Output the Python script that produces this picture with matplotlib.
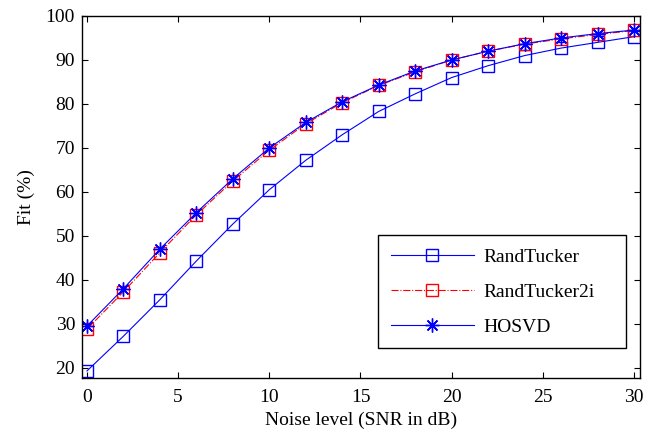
import matplotlib
matplotlib.use("Agg")
import matplotlib.pyplot as plt

snr = [0, 2, 4, 6, 8, 10, 12, 14, 16, 18, 20, 22, 24, 26, 28, 30]
randtucker = [19.3, 27.2, 35.5, 44.3, 52.7, 60.5, 67.2, 73.0, 78.3, 82.3, 86.0, 88.7, 91.0, 92.7, 94.0, 95.3]
randtucker2i = [28.8, 37.3, 46.2, 54.8, 62.5, 69.5, 75.5, 80.3, 84.2, 87.3, 90.0, 92.0, 93.6, 94.8, 95.8, 96.7]
hosvd = [29.5, 38.0, 47.0, 55.3, 63.0, 70.0, 75.8, 80.5, 84.3, 87.5, 90.0, 92.0, 93.7, 95.0, 96.0, 96.8]
labels = ["RandTucker", "RandTucker2i", "HOSVD"]
xticks = [0, 5, 10, 15, 20, 25, 30]
yticks = [20, 30, 40, 50, 60, 70, 80, 90, 100]

plt.rcParams['font.family'] = ['Liberation Serif', 'DejaVu Serif']
plt.rcParams['font.size'] = 14

fig = plt.figure(figsize=(6.62, 4.32), dpi=100)
ax = fig.add_axes([0.1239, 0.125, 0.8429, 0.838])

ax.plot(snr, randtucker, color='blue', lw=0.8, marker='s', ms=8.5, mfc='none',
        mec='blue', mew=1.0, label=labels[0])
ax.plot(snr, randtucker2i, color='red', lw=0.8, ls='-.', marker='s', ms=8.5, mfc='none',
        mec='red', mew=1.0, label=labels[1])
ax.plot(snr, hosvd, color='blue', lw=0.8, marker=(8, 2, 0), ms=10, mec='blue',
        mew=1.0, label=labels[2])

ax.set_xlim(-0.27, 30.33)
ax.set_ylim(17.7, 100)
ax.set_xticks(xticks)
ax.set_yticks(yticks)
ax.tick_params(direction='in', top=True, right=True, length=4, width=0.8)
ax.tick_params(axis='y', pad=5)
ax.tick_params(axis='x', pad=8)
for s in ax.spines.values():
    s.set_linewidth(1.0)

ax.set_xlabel("Noise level (SNR in dB)", labelpad=4)
ax.set_ylabel("Fit (%)", labelpad=8)

leg = ax.legend(loc='upper right', bbox_to_anchor=(0.5305, 0.394, 0.4435, 0.0),
                mode='expand', borderaxespad=0,
                fancybox=False, edgecolor='black', framealpha=1, handlelength=4.3,
                labelspacing=0.9, borderpad=0.65, handletextpad=0.45)
leg.get_frame().set_linewidth(1.0)

fig.savefig("out.png", dpi=100)
